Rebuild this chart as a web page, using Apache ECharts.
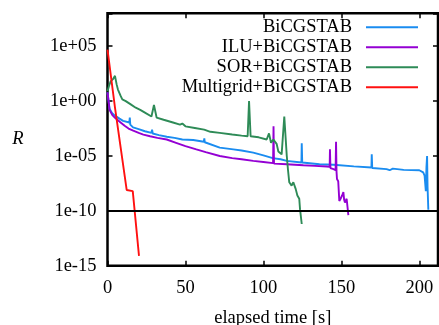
<!DOCTYPE html>
<html>
<head>
<meta charset="utf-8">
<style>
  html, body { margin: 0; padding: 0; background: #fff; }
  #chart { width: 439px; height: 325px; }
</style>
<script src="https://cdn.jsdelivr.net/npm/echarts@6/dist/echarts.min.js"></script>
</head>
<body>
<div id="chart"></div>
<script>
// Residual history of each solver: [elapsed time (s), log10 of residual R]
const bicgstab = [
  [0, 0.8], [0.7, 0.0], [1.3, -0.7], [3, -1.1], [5, -1.35], [7.7, -1.6], [10, -1.8],
  [14.0, -1.95], [14.3, -1.5], [14.6, -2.15], [16.4, -2.4], [20, -2.55], [24, -2.75],
  [28.2, -2.9], [28.6, -2.6], [29.0, -2.95], [33, -3.1], [38, -3.25], [43, -3.35],
  [48, -3.5], [55, -3.55], [61.8, -3.7], [62.1, -3.4], [62.4, -3.75], [72, -4.24],
  [80.7, -4.4], [86, -4.5], [87, -4.4], [93.5, -4.7], [100, -4.95], [106, -5.2],
  [111, -5.3], [115, -5.45], [124.4, -5.6], [124.6, -3.85], [124.9, -5.6], [136, -5.75],
  [145, -5.8], [158, -5.95], [169.3, -6.05], [169.5, -4.85], [169.8, -6.1], [179, -6.2],
  [181, -6.3], [183, -6.15], [190, -6.27], [200, -6.3], [202.5, -6.5], [203.4, -6.8],
  [204.2, -8.2], [204.6, -6.0], [205.0, -5.0], [205.3, -7.8], [205.8, -9.9]
];
const iluBicgstab = [
  [0, 0.8], [0.7, 0.0], [1.3, -0.8], [3, -1.25], [5, -1.55], [8, -1.9], [11, -2.25],
  [13.5, -2.5], [16.5, -2.7], [20, -2.9], [23, -3.05], [27.3, -3.2], [32, -3.35],
  [38, -3.5], [44, -3.8], [50, -4.1], [57, -4.4], [63, -4.65], [72, -5.0], [80, -5.2],
  [86, -5.3], [93.5, -5.45], [100, -5.55], [106.2, -5.65], [106.5, -2.3], [106.8, -5.7],
  [115, -5.75], [125.6, -5.85], [133, -5.9], [140.6, -5.96], [142.5, -6.0], [142.7, -4.4],
  [143.0, -6.1], [145, -6.2], [146.3, -6.3], [146.6, -3.7], [146.9, -6.4], [147.2, -7.1],
  [148, -7.3], [148.7, -9.1], [149.5, -8.9], [150.5, -8.6], [151.3, -8.3], [151.8, -9.0],
  [152.3, -9.25], [153.4, -8.9], [154.5, -10.4]
];
const sorBicgstab = [
  [0, 0.9], [1, 1.4], [2, 1.8], [3.5, 2.0], [4.8, 2.3], [5.9, 1.5], [6.7, 1.05],
  [7.4, 1.2], [8.5, 0.45], [9.5, 0.15], [11.7, 0.0], [14.9, -0.3], [18.1, -0.6],
  [21, -0.8], [24, -1.05], [28.2, -1.4], [29.8, -0.35], [31.5, -1.5], [36, -1.7],
  [42, -1.95], [46.5, -2.15], [48, -2.05], [50, -2.3], [56, -2.45], [62, -2.6],
  [66, -2.8], [72, -2.9], [80, -3.05], [86, -3.15], [89.9, -3.2], [90.8, 0.0],
  [91.8, -3.2], [97, -3.3], [102.1, -3.5], [103.6, -2.95], [104.9, -3.8], [106.4, -3.5],
  [108.5, -3.9], [109.6, -4.6], [111.7, -4.85], [113.4, -1.4], [115, -5.0], [115.8, -6.3],
  [116.6, -7.4], [118.1, -7.7], [119.2, -7.4], [120.7, -8.0], [121.8, -8.6], [123, -8.9],
  [123.5, -9.85], [124.6, -11.2]
];
const multigridBicgstab = [
  [0, 4.7], [4.8, -0.6], [12.3, -8.1], [16.2, -8.2], [20.2, -14.1]
];

const seriesNames = ['BiCGSTAB', 'ILU+BiCGSTAB', 'SOR+BiCGSTAB', 'Multigrid+BiCGSTAB'];
const seriesColors = ['#1a8cf0', '#9400d3', '#2e8b57', '#ff1010'];
const seriesData = [bicgstab, iluBicgstab, sorBicgstab, multigridBicgstab];

// Convergence threshold (log10 R)
const toleranceLog10 = -10;

// Axis ranges and tick labels
const timeMin = 0, timeMax = 212, timeStep = 50;
const logMin = -15, logMax = 8, logStep = 5;
const yTickValues = [-15, -10, -5, 0, 5];
const yTickLabels = ['1e-15', '1e-10', '1e-05', '1e+00', '1e+05'];

const FONT = 'Liberation Serif';
const FS = 18.5;

const chart = echarts.init(document.getElementById('chart'), null, { renderer: 'canvas' });

const tickStyle = { show: true, inside: true, length: 5, lineStyle: { color: '#000', width: 1.5 } };
const hiddenLine = { show: false, onZero: false };

const series = seriesNames.map((name, i) => ({
  name: name,
  type: 'line',
  data: seriesData[i],
  showSymbol: false,
  symbol: 'none',
  lineStyle: { color: seriesColors[i], width: 1.9 },
  itemStyle: { color: seriesColors[i] },
  z: 2 + i,
  animation: false
}));

series[0].markLine = {
  silent: true,
  symbol: 'none',
  label: { show: false },
  lineStyle: { color: '#000', width: 2, type: 'solid' },
  data: [{ yAxis: toleranceLog10 }],
  animation: false,
  z: 10
};

chart.setOption({
  animation: false,
  backgroundColor: '#fff',
  grid: {
    left: 107.5, top: 13.3, right: 1, bottom: 59.3,
    containLabel: false,
    outerBoundsMode: 'none',
    show: true, borderColor: '#000', borderWidth: 2.5, backgroundColor: 'transparent'
  },
  legend: {
    data: seriesNames,
    orient: 'vertical',
    align: 'right',
    right: 21,
    top: 17.3,
    padding: 0,
    itemGap: 0,
    itemWidth: 52,
    itemHeight: 2,
    icon: 'rect',
    selectedMode: false,
    textStyle: { fontFamily: FONT, fontSize: FS, color: '#000', lineHeight: 20, padding: [0, 9, 0, 0] }
  },
  xAxis: [{
    type: 'value',
    position: 'bottom',
    min: timeMin, max: timeMax, interval: timeStep,
    name: 'elapsed time [s]',
    nameLocation: 'middle',
    nameGap: 43,
    nameTextStyle: { fontFamily: FONT, fontSize: FS, color: '#000' },
    axisLine: hiddenLine,
    axisTick: tickStyle,
    splitLine: { show: false },
    axisLabel: { fontFamily: FONT, fontSize: FS, color: '#000', margin: 12.5, showMaxLabel: false }
  }, {
    type: 'value', position: 'top',
    min: timeMin, max: timeMax, interval: timeStep,
    axisLine: hiddenLine, axisTick: tickStyle,
    splitLine: { show: false }, axisLabel: { show: false }
  }],
  yAxis: [{
    type: 'value',
    position: 'left',
    min: logMin, max: logMax, interval: logStep,
    name: 'R',
    nameLocation: 'middle',
    nameRotate: 0,
    nameGap: 84,
    nameTextStyle: { fontFamily: FONT, fontSize: FS, fontStyle: 'italic', color: '#000', padding: [8, 0, 0, 0] },
    axisLine: hiddenLine,
    axisTick: tickStyle,
    splitLine: { show: false },
    axisLabel: {
      fontFamily: FONT, fontSize: FS, color: '#000', margin: 11,
      formatter: v => {
        const k = yTickValues.indexOf(Math.round(v));
        return k >= 0 ? yTickLabels[k] : '';
      }
    }
  }, {
    type: 'value', position: 'right',
    min: logMin, max: logMax, interval: logStep,
    axisLine: hiddenLine, axisTick: tickStyle,
    splitLine: { show: false }, axisLabel: { show: false }
  }],
  series: series
});
</script>
</body>
</html>
